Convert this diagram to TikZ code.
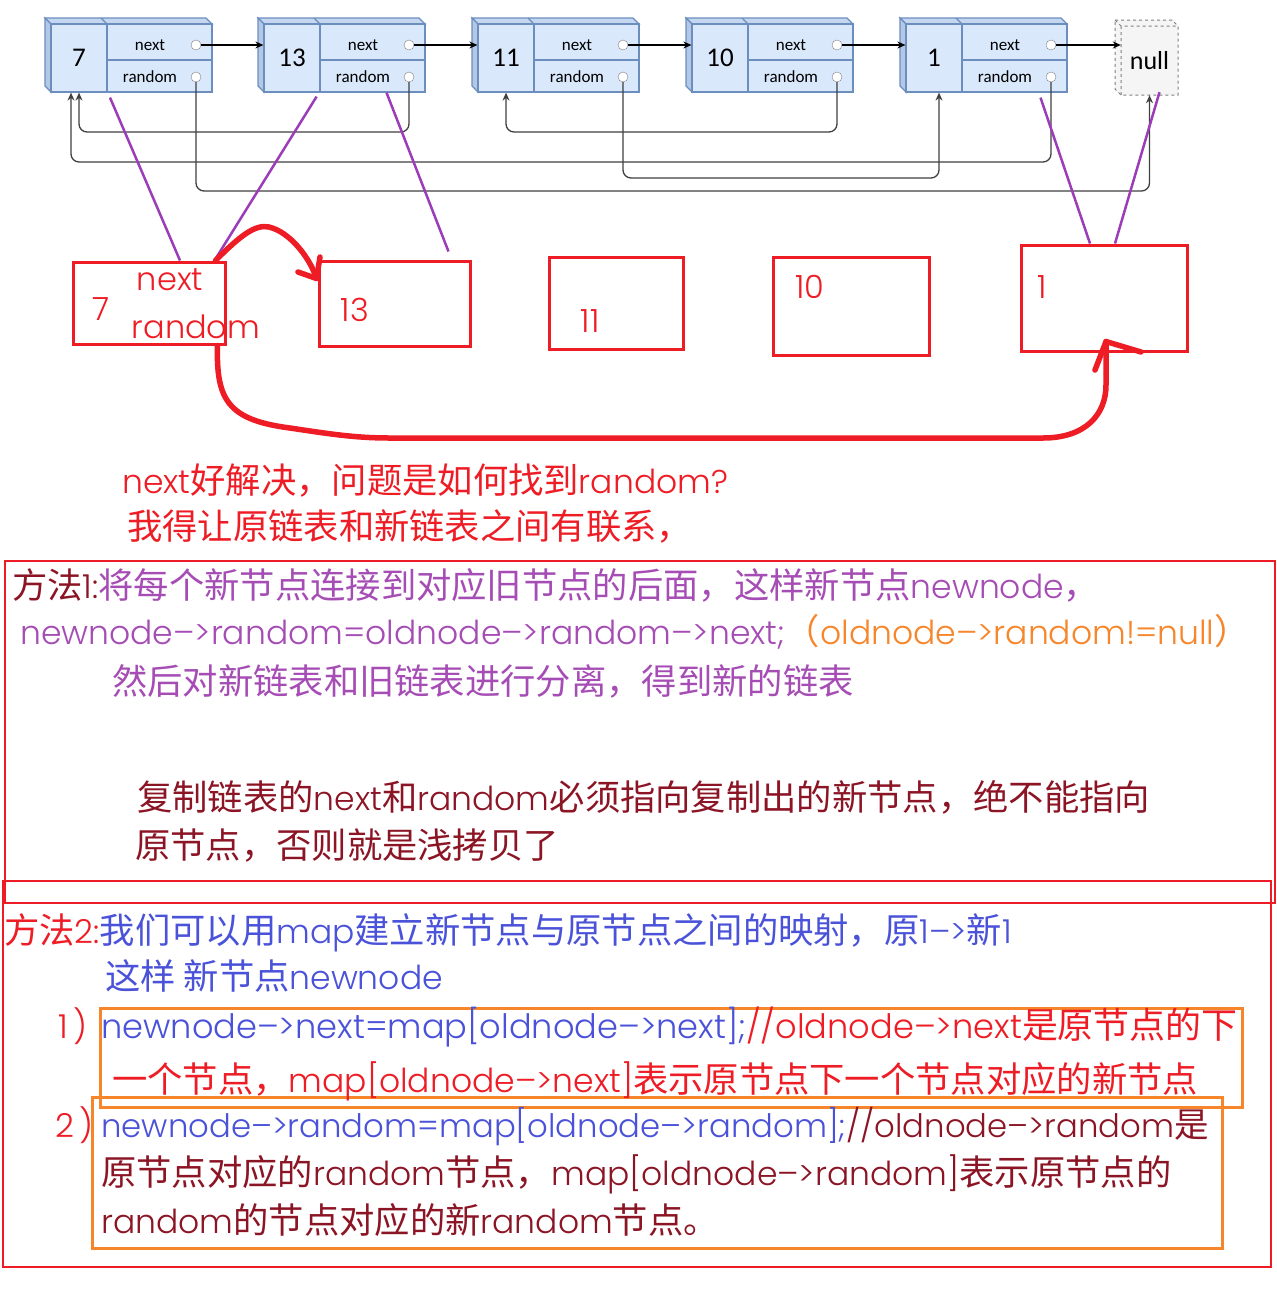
\documentclass[tikz,border=0pt]{standalone}
\usepackage{fontspec}
\setmainfont{Poppins}[UprightFont=* Light]
\newfontfamily\zh{Noto Sans CJK SC}[Scale=1.07]
\newfontfamily\comic{Carlito}
\newcommand\cn[1]{{\zh #1}}
\usetikzlibrary{arrows.meta,calc}

\definecolor{hand}{HTML}{EE1C25}
\definecolor{plum}{HTML}{A64DB5}
\definecolor{wine}{HTML}{8C1525}
\definecolor{amber}{HTML}{F7862A}
\definecolor{ink}{HTML}{4A52D9}
\definecolor{pline}{HTML}{9B3DB8}
\definecolor{cellfill}{HTML}{DAE8FC}
\definecolor{celledge}{HTML}{6C8EBF}

\begin{document}
\begin{tikzpicture}[x=1pt, y=-1pt,
  cell/.style={draw=celledge, fill=cellfill, line width=1.2pt, inner sep=0pt,
    font=\comic\fontsize{27}{30}\selectfont},
  fld/.style={draw=celledge, fill=cellfill, line width=1.2pt, inner sep=0pt,
    minimum width=105pt},
  fldtxt/.style={inner sep=0pt, font=\comic\fontsize{17}{20}\selectfont},
  dot/.style={circle, draw=gray, fill=white, inner sep=0pt, minimum size=10pt},
  nxt/.style={-{Stealth[length=8pt,width=7pt]}, line width=1.3pt},
  rnd/.style={-{Stealth[length=8pt,width=7pt]}, line width=1.3pt,
    rounded corners=8pt, draw=black!75},
  cpy/.style={draw=hand, line width=3pt, inner sep=0pt},
  lbl/.style={text=hand, inner sep=0pt, font=\fontsize{32}{36}\selectfont},
  pur/.style={draw=pline, line width=2.5pt},
  hnd/.style={draw=hand, line width=5.5pt, line cap=round, line join=round},
  txt/.style={anchor=base west, inner sep=0pt, font=\fontsize{33}{40}\selectfont},
  redframe/.style={draw=hand, line width=2.5pt},
  obox/.style={draw=amber, line width=3pt}
]
\fill[white] (0,0) rectangle (1277,1299);
\useasboundingbox (0,0) rectangle (1277,1299);

% original list
\foreach \v/\L in {7/45,13/258,11/472,10/686,1/900}{
  \draw[celledge, line width=1.2pt, fill=cellfill!80!celledge]
    (\L,18) -- (\L+161,18) -- (\L+167,24) -- (\L+6,24) -- cycle;
  \draw[celledge, line width=1.2pt, fill=cellfill!65!celledge]
    (\L,18) -- (\L+6,24) -- (\L+6,92) -- (\L,86) -- cycle;
  \draw[celledge, line width=1.2pt] (\L+56,18) -- (\L+62,24);
  \node[cell, minimum width=56pt, minimum height=68pt] (v\v) at (\L+34,58) {\v};
  \node[fld, minimum height=36pt] (fn\v) at (\L+114.5,42) {};
  \node[fld, minimum height=32pt] (fr\v) at (\L+114.5,76) {};
  \node[fldtxt] (tn\v) at (\L+105,45) {next};
  \node[fldtxt] (tr\v) at (\L+105,77) {random};
  \node[dot] (cn\v) at (\L+151,45) {};
  \node[dot] (cr\v) at (\L+151,77) {};
}
\draw[gray, dashed, line width=1pt, fill=gray!8]
  (1115,20) -- (1172,20) -- (1178,26) -- (1178,95) -- (1121,95) -- (1115,89) -- cycle;
\draw[gray, dashed, line width=1pt] (1115,20) -- (1121,26) -- (1178,26) (1121,26) -- (1121,95);
\node[inner sep=0pt, minimum width=57pt, minimum height=69pt,
  font=\comic\fontsize{26}{30}\selectfont] (nul) at (1149.5,60.5) {null};

\foreach \a/\b in {7/13,13/11,11/10,10/1}
  \draw[nxt] (cn\a) -- (cn\a -| v\b.west);
\draw[nxt] (cn1) -- (cn1 -| nul.west);

\coordinate (ya) at (0,132);
\coordinate (yb) at (0,162);
\coordinate (yc) at (0,178);
\coordinate (yd) at (0,191);
\draw[rnd] (cr13) -- (cr13 |- ya) -| (v7.south);
\draw[rnd] (cr1) -- (cr1 |- yb) -| ([xshift=-8pt]v7.south);
\draw[rnd] (cr10) -- (cr10 |- ya) -| (v11.south);
\draw[rnd] (cr11) -- (cr11 |- yc) -| ([xshift=5pt]v1.south);
\draw[rnd] (cr7) -- (cr7 |- yd) -| (nul.south);

% copied list
\node[cpy, minimum width=152pt, minimum height=82pt] (r7) at (149,303) {};
\node[cpy, minimum width=151pt, minimum height=85pt] (r13) at (394.5,303.5) {};
\node[cpy, minimum width=134pt, minimum height=92pt] (r11) at (616,303) {};
\node[cpy, minimum width=156pt, minimum height=98pt] (r10) at (851,306) {};
\node[cpy, minimum width=166pt, minimum height=106pt] (r1) at (1104,298) {};
\node[lbl] (l7) at (101,309) {7};
\node[lbl] (l7n) at (170,280) {next};
\node[lbl] (l7r) at (196,327) {random};
\node[lbl] (l13) at (355,310) {13};
\node[lbl] (l11) at (590,321) {11};
\node[lbl] (l10) at (810,287) {10};
\node[lbl] (l1) at (1042,287) {1};

\draw[pur] ($(v7.south)+(31,5)$) -- ($(r7.north)+(31,0)$);
\draw[pur] ($(v13.south east)+(-4,4)$) -- ($(r7.north east)+(-12,0)$);
\draw[pur] ($(fr13.south)+(14,0)$) -- ($(r13.north east)+(-23,-8)$);
\draw[pur] ($(fr1.south)+(26,5)$) -- ($(r1.north)+(-14,0)$);
\draw[pur] ($(nul.south)+(10,-3)$) -- ($(r1.north)+(11,0)$);

\coordinate (h1) at ($(r13.north west)+(-1,19)$);
\coordinate (h2) at ($(r1.south)+(2,-11)$);
\draw[hnd] ($(r7.north east)+(-11,0)$) .. controls (240,236) and (255,224) .. (269,227)
  .. controls (290,232) and (310,258) .. (h1);
\draw[hnd] (298,272) -- (h1) -- (320,257);
\draw[hnd] ($(r7.south east)+(-9,0)$) .. controls (216,400) and (228,420) .. (290,428)
  .. controls (330,434) and (355,438) .. (390,438) -- (1043,438)
  .. controls (1085,438) and (1106,415) .. (1106,385) -- (h2);
\draw[hnd] (1095,370) -- (h2) -- (1141,352);

% notes
\node[txt, text=hand] (q1) at (122,493) {next\cn{好解决，问题是如何找到}random?};
\node[txt, text=hand] (q2) at (127,539) {\cn{我得让原链表和新链表之间有联系，}};

\draw[redframe] (5,561) rectangle (1275,903);
\draw[redframe] (3,881) rectangle (1271,1267);
\draw[obox] (100,1008) rectangle (1242,1107);
\draw[obox] (92,1097) rectangle (1222,1248);

\node[txt, text=plum] (m1a) at (12,598)
  {\textcolor{wine}{\cn{方法}1:}\cn{将每个新节点连接到对应旧节点的后面，这样新节点}newnode\cn{，}};
\node[txt, text=plum] (m1b) at (20,644)
  {newnode–>random=oldnode–>random–>next;\textcolor{amber}{\cn{（}oldnode–>random!=null\cn{）}}};
\node[txt, text=plum] (m1c) at (112,694) {\cn{然后对新链表和旧链表进行分离，得到新的链表}};
\node[txt, text=wine] (m1d) at (137,810)
  {\cn{复制链表的}next\cn{和}random\cn{必须指向复制出的新节点，绝不能指向}};
\node[txt, text=wine] (m1e) at (135,858) {\cn{原节点，否则就是浅拷贝了}};

\node[txt, text=ink] (m2a) at (4,943)
  {\textcolor{hand}{\cn{方法}2:}\cn{我们可以用}map\cn{建立新节点与原节点之间的映射，原}1–>\cn{新}1};
\node[txt, text=ink] (m2b) at (105,989) {\cn{这样 新节点}newnode};
\node[txt, text=hand] (k1) at (58,1038) {1\,)};
\node[txt, text=ink, font=\fontsize{33.6}{40}\selectfont] (m2c) at (101,1038)
  {newnode–>next=map[oldnode–>next];\textcolor{hand}{//oldnode–>next\cn{是原节点的下}}};
\node[txt, text=hand] (m2d) at (112,1092)
  {\cn{一个节点，}map[oldnode–>next]\cn{表示原节点下一个节点对应的新节点}};
\node[txt, text=hand] (k2) at (55,1137) {2\,)};
\node[txt, text=ink, font=\fontsize{32.3}{40}\selectfont] (m2e) at (101,1137)
  {newnode–>random=map[oldnode–>random];\textcolor{wine}{//oldnode–>random\cn{是}}};
\node[txt, text=wine] (m2f) at (101,1185)
  {\cn{原节点对应的}random\cn{节点，}map[oldnode–>random]\cn{表示原节点的}};
\node[txt, text=wine] (m2g) at (101,1233) {random\cn{的节点对应的新}random\cn{节点。}};
\end{tikzpicture}
\end{document}
